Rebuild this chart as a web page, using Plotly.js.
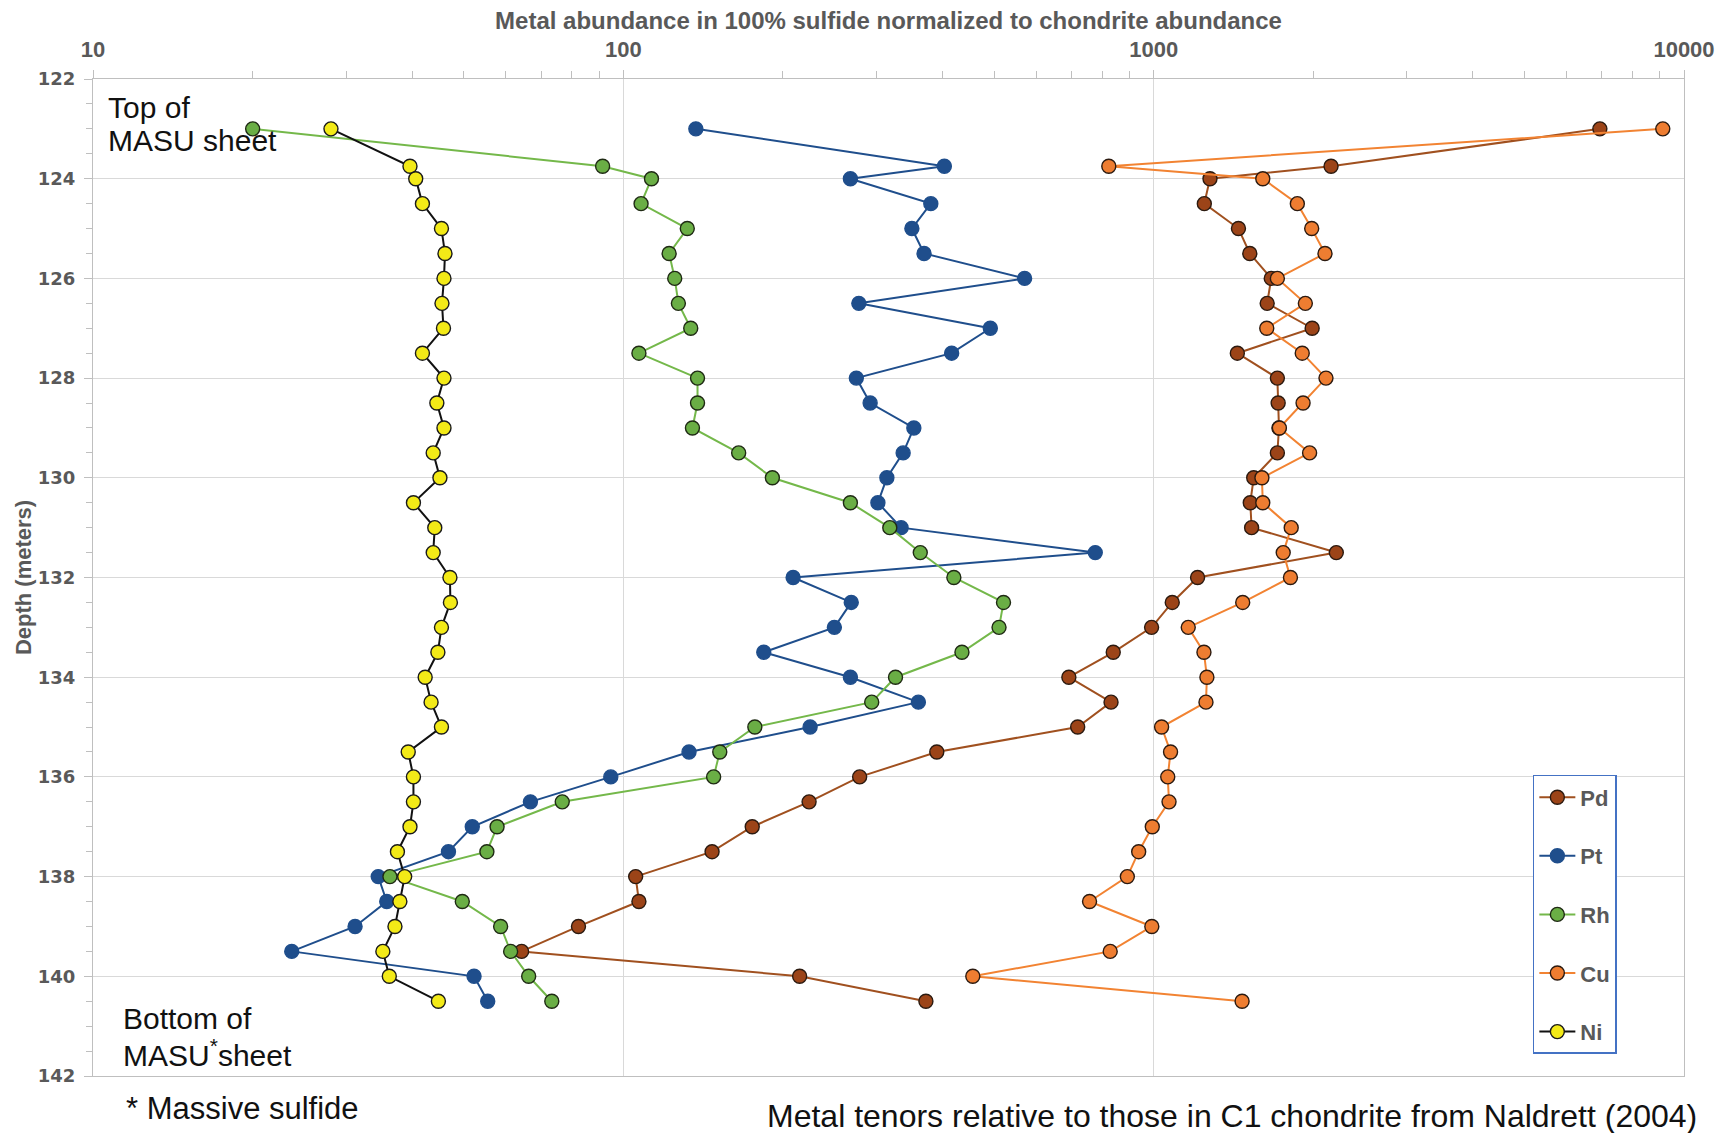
<!DOCTYPE html>
<html>
<head>
<meta charset="utf-8">
<script src="https://cdn.plot.ly/plotly-3.0.1.min.js"></script>
<style>
  html, body { margin: 0; padding: 0; background: #ffffff; }
  #chart { width: 1724px; height: 1133px; }
</style>
</head>
<body>
<div id="chart"></div>
<script>
// Depth (m) of each sample
const depths = [123, 123.75, 124, 124.5, 125, 125.5, 126, 126.5, 127, 127.5, 128, 128.5, 129, 129.5,
  130, 130.5, 131, 131.5, 132, 132.5, 133, 133.5, 134, 134.5, 135, 135.5, 136, 136.5, 137, 137.5,
  138, 138.5, 139, 139.5, 140, 140.5];

// Metal abundance in 100% sulfide normalized to chondrite
const pd = [6940, 2160, 1277, 1246, 1445, 1518, 1666, 1637, 1990, 1438, 1711, 1717, 1723, 1711,
  1544, 1521, 1530, 2210, 1210, 1084, 991, 839, 692, 831, 719, 390, 279, 224, 175, 147,
  105.5, 107, 82.3, 64.3, 215, 372];
const pt = [137, 403, 268, 380, 350, 369, 571, 278, 492, 416, 275, 292, 353, 337,
  314, 302, 334, 776, 209, 269, 250, 184, 268, 360, 225, 133, 94.7, 66.8, 51.9, 46.8,
  34.5, 35.8, 31.2, 23.7, 52.3, 55.5];
const rh = [20.0, 91.4, 113, 108, 132, 122, 125, 127, 134, 107, 138, 138, 135, 165,
  191, 268, 318, 363, 420, 521, 511, 435, 326, 294, 177, 152, 148, 76.7, 57.8, 55.3,
  36.3, 49.7, 58.7, 61.3, 66.3, 73.3];
const cu = [9120, 823, 1606, 1866, 1986, 2104, 1711, 1932, 1634, 1906, 2113, 1913, 1726, 1968,
  1600, 1606, 1817, 1755, 1811, 1472, 1162, 1244, 1260, 1255, 1035, 1076, 1063, 1069, 994, 937,
  892, 757, 992, 828, 456, 1468];
const ni = [28.1, 39.6, 40.6, 41.8, 45.4, 46.1, 45.9, 45.5, 45.8, 41.8, 45.9, 44.5, 45.9, 43.8,
  45.1, 40.2, 44.1, 43.8, 47.1, 47.2, 45.4, 44.7, 42.3, 43.4, 45.4, 39.3, 40.2, 40.2, 39.6, 37.5,
  38.7, 37.9, 37.1, 35.2, 36.2, 44.8];

const seriesNames = ['Pd', 'Pt', 'Rh', 'Cu', 'Ni'];
const xTickVals = [10, 100, 1000, 10000];
const xTickText = ['10', '100', '1000', '10000'];
const yTickVals = [122, 124, 126, 128, 130, 132, 134, 136, 138, 140, 142];

// minor log ticks 2..9 within each decade
const xMinorVals = [];
xTickVals.slice(0, -1).forEach(function (d) {
  for (let k = 2; k <= 9; k++) xMinorVals.push(k * d);
});

const styles = {
  Pd: { line: '#A0501F', fill: '#9C4418', outline: '#2b1a10' },
  Pt: { line: '#1F4E8C', fill: '#1F4E8C', outline: '#1F4E8C' },
  Rh: { line: '#74B84A', fill: '#6AAE45', outline: '#1f2a14' },
  Cu: { line: '#F28332', fill: '#EE7D31', outline: '#2b1a10' },
  Ni: { line: '#111111', fill: '#F3EA17', outline: '#1a1a1a' }
};
const values = { Pd: pd, Pt: pt, Rh: rh, Cu: cu, Ni: ni };

const traces = seriesNames.map(function (name) {
  const s = styles[name];
  return {
    type: 'scatter',
    mode: 'lines+markers',
    name: name,
    legendgroup: name,
    x: values[name],
    y: depths,
    line: { color: s.line, width: 2 },
    marker: { size: 14, color: s.fill, line: { color: s.outline, width: 1.4 } }
  };
});

const gray = '#595959';
const noteFont = { family: 'Liberation Sans, Arial, sans-serif', size: 30, color: '#111111' };
function note(text, xpx, ypx, size, xanchor) {
  return {
    xref: 'paper', yref: 'paper',
    x: (xpx - 93) / 1591, y: 1 - (ypx - 79) / 997,
    xanchor: xanchor || 'left', yanchor: 'middle',
    text: text, showarrow: false,
    font: Object.assign({}, noteFont, { size: size })
  };
}

const layout = {
  width: 1724,
  height: 1133,
  paper_bgcolor: '#ffffff',
  plot_bgcolor: '#ffffff',
  margin: { l: 93, r: 40, t: 79, b: 57 },
  showlegend: true,
  legend: {
    x: 0.905, xanchor: 'left', y: 0.302, yanchor: 'top',
    bgcolor: '#ffffff', bordercolor: '#4472C4', borderwidth: 1.5,
    font: { family: 'Liberation Sans, Arial, sans-serif', size: 22, color: gray, weight: 'bold' },
    tracegroupgap: 27, itemwidth: 36
  },
  xaxis: {
    type: 'log',
    side: 'top',
    range: [1, 4],
    tickvals: xTickVals,
    ticktext: xTickText,
    tickfont: { family: 'Liberation Sans, Arial, sans-serif', size: 22, color: gray, weight: 'bold' },
    ticks: 'outside', ticklen: 8, tickcolor: '#BFBFBF',
    ticklabelstandoff: 4,
    minor: { tickvals: xMinorVals, ticks: 'outside', ticklen: 7, tickcolor: '#BFBFBF', showgrid: false },
    showgrid: true, gridcolor: '#D9D9D9', gridwidth: 1.2,
    showline: true, linecolor: '#BFBFBF', linewidth: 1.2, mirror: true,
    zeroline: false,
    title: {
      text: 'Metal abundance in 100% sulfide normalized to chondrite abundance',
      font: { family: 'Liberation Sans, Arial, sans-serif', size: 24, color: gray, weight: 'bold' },
      standoff: 0
    }
  },
  yaxis: {
    range: [142, 122],
    tickvals: yTickVals,
    tickfont: { family: 'DejaVu Sans, Liberation Sans, sans-serif', size: 18, color: gray, weight: 'bold' },
    ticks: 'outside', ticklen: 8, tickcolor: '#BFBFBF',
    ticklabelstandoff: 5,
    minor: { dtick: 0.5, ticks: 'outside', ticklen: 6, tickcolor: '#BFBFBF', showgrid: false },
    showgrid: true, gridcolor: '#D9D9D9', gridwidth: 1.2,
    showline: true, linecolor: '#BFBFBF', linewidth: 1.2, mirror: true,
    zeroline: false,
    title: {
      text: 'Depth (meters)',
      font: { family: 'Liberation Sans, Arial, sans-serif', size: 22, color: gray, weight: 'bold' },
      standoff: 0
    }
  },
  annotations: [
    note('Top of', 106, 107, 30),
    note('MASU sheet', 106, 141, 30),
    note('Bottom of', 121, 1018, 30),
    note('MASU<sup>*</sup>sheet', 121, 1053, 30),
    note('* Massive sulfide', 124, 1108, 31),
    note('Metal tenors relative to those in C1 chondrite from Naldrett (2004)', 1699, 1116, 32, 'right')
  ]
};

Plotly.newPlot('chart', traces, layout, { displayModeBar: false, responsive: false });
</script>
</body>
</html>
